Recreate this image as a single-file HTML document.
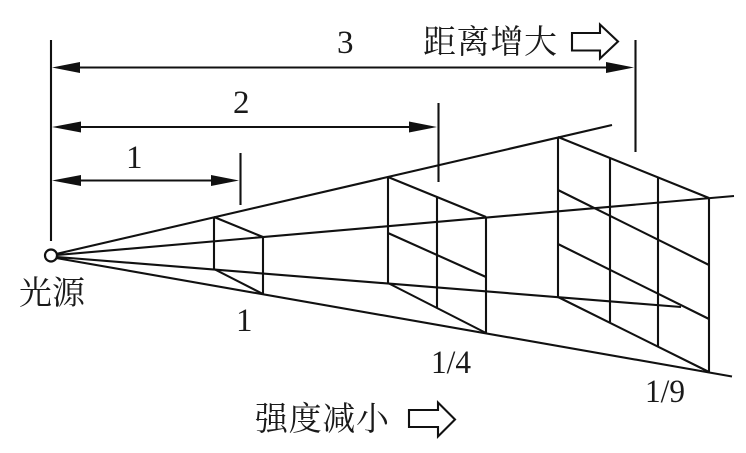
<!DOCTYPE html>
<html>
<head>
<meta charset="utf-8">
<style>
html,body{margin:0;padding:0;background:#fff}
svg{display:block}
.n{font-family:"Liberation Serif",serif;font-size:33px;fill:#1a1a1a}
.c{font-family:"Liberation Serif","Noto Serif CJK SC",serif;font-size:33px;fill:#1a1a1a}
</style>
</head>
<body>
<svg width="746" height="453" viewBox="0 0 746 453" xmlns="http://www.w3.org/2000/svg">
<rect width="746" height="453" fill="#fff"/>
<g stroke="#111" stroke-width="2.1" fill="none">
<!-- vertical extents -->
<path d="M51 40V241M240.500 153V205M438.500 103V182M635.500 40V152"/>
<!-- dimension lines -->
<path d="M70 67.500H620M70 127H420M70 180.500H225"/>
<!-- rays -->
<path d="M56 254L612 125M57 255L734 196M57 257L681 307M56 258L732 376.500"/>
<!-- box 1 -->
<path d="M214 217V269M263 237V294M214 217L263 237M214 269L263 294"/>
<!-- box 2 -->
<path d="M388 177V283M437 197V308M486 217V333M388 177L486 217M388 233L486 277M388 283L486 333"/>
<!-- box 3 -->
<path d="M558 137V297M610 158V322M658 178V346M709 198V372M558 137L709 198M558 190L709 265M558 244L709 319M558 297L709 372"/>
</g>
<!-- arrowheads -->
<g fill="#111">
<path d="M52 67.500L80 62V73Z"/>
<path d="M52 127L81 121.500V132.500Z"/>
<path d="M52 180.500L81 175V186Z"/>
<path d="M239 180.500L211 175V186Z"/>
<path d="M437 127L409 121.500V132.500Z"/>
<path d="M634 67.500L606 62V73Z"/>
</g>
<circle cx="51" cy="255.500" r="6" fill="#fff" stroke="#111" stroke-width="2.2"/>
<!-- hollow arrows -->
<g fill="#fff" stroke="#111" stroke-width="2.1">
<path d="M572 33H600V24.500L618 41.500L600 58.500V50.500H572Z"/>
<path d="M409 410H438V402.500L455 419.500L438 436.500V427H409Z"/>
</g>
<!-- labels -->
<text class="n" x="337" y="53">3</text>
<text class="n" x="233" y="113">2</text>
<text class="n" x="126" y="168">1</text>
<text class="n" x="236" y="331">1</text>
<text class="n" x="431" y="373" textLength="40" lengthAdjust="spacingAndGlyphs">1/4</text>
<text class="n" x="645" y="402" textLength="40" lengthAdjust="spacingAndGlyphs">1/9</text>
<text class="c" x="423" y="53" textLength="134">距离增大</text>
<text class="c" x="19" y="304" textLength="66">光源</text>
<text class="c" x="255" y="430" textLength="134">强度减小</text>
</svg>
</body>
</html>
